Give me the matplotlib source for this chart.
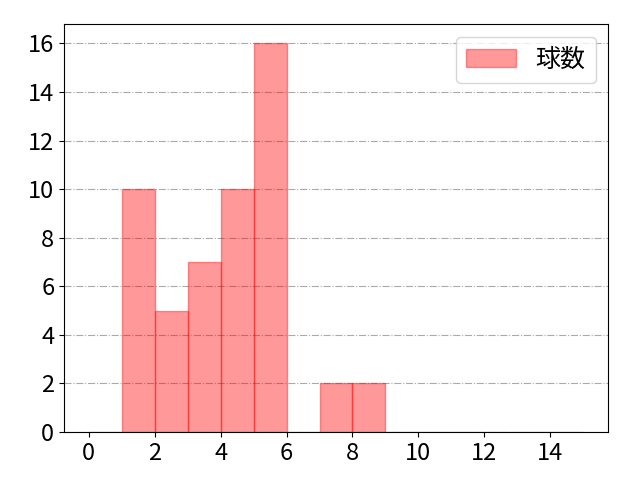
import matplotlib
matplotlib.use("Agg")
import matplotlib.pyplot as plt

plt.rcParams['font.family'] = ['Noto Sans CJK JP', 'DejaVu Sans']

# 球数ごとの度数 (bin 左端, 件数)
bin_left = [0, 1, 2, 3, 4, 5, 6, 7, 8, 9, 10, 11, 12, 13, 14]
counts = [0, 10, 5, 7, 10, 16, 0, 2, 2, 0, 0, 0, 0, 0, 0]
bin_edges = list(range(0, 16))

fig, ax = plt.subplots(figsize=(6.4, 4.8), dpi=100)
fig.subplots_adjust(left=0.1, right=0.95, top=0.95, bottom=0.1)

ax.hist(bin_left, bins=bin_edges, weights=counts, color='red', alpha=0.4,
        edgecolor='red', linewidth=1, label='球数')
ax.set_xticks(range(0, 15, 2))
ax.set_yticks(range(0, 17, 2))
ax.tick_params(labelsize=17)
ax.grid(axis='y', linestyle='-.', color='#aaaaaa')
ax.set_axisbelow(True)
ax.legend(fontsize=18)

plt.savefig('out.png', dpi=100)
plt.close()
